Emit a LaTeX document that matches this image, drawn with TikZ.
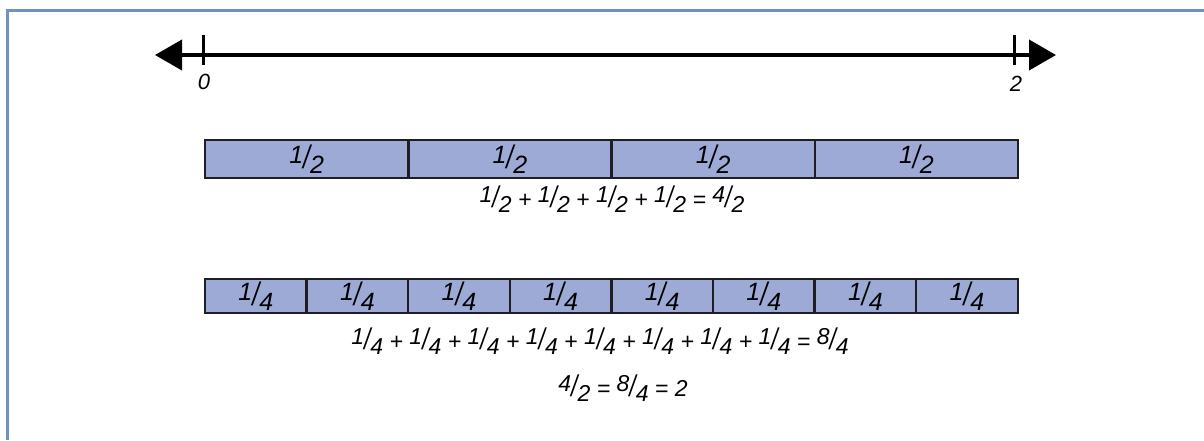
\documentclass[tikz,border=0pt]{standalone}
\usepackage{fontspec}
\setmainfont{Liberation Sans}
\usetikzlibrary{arrows.meta}
\definecolor{frameBlue}{RGB}{112, 146, 190}
\definecolor{barBlue}{RGB}{158, 170, 214}
\definecolor{barEdge}{RGB}{30, 30, 36}
% slanted fraction like 1/2
\newcommand{\frc}[2]{\raisebox{5pt}{#1}\scalebox{1}[1.3]{/}\raisebox{-5pt}{#2}}
\tikzset{
  cellbox/.style={draw=barEdge, line width=2.5pt, fill=barBlue, inner sep=0pt,
    font=\fontsize{25}{30}\selectfont\itshape},
  halfcell/.style={cellbox, minimum width=203.25pt, minimum height=38pt},
  quartercell/.style={cellbox, minimum width=101.6pt, minimum height=34pt},
  sumtext/.style={font=\fontsize{23}{28}\selectfont\itshape, inner sep=0pt},
  ticklabel/.style={font=\fontsize{22}{26}\selectfont\itshape, inner sep=0pt}
}
\begin{document}
\begin{tikzpicture}[x=1pt, y=-1pt]
  \useasboundingbox (0,0) rectangle (1204,440);
  % frame (only top and left edges show)
  \draw[frameBlue, line width=3pt] (7,440) -- (7,10) -- (1204,10);

  % number line from 0 to 2
  \coordinate (lineL) at (155,55);
  \coordinate (lineR) at (1056,55);
  \draw[line width=4pt, {Triangle[length=27pt,width=30pt]}-{Triangle[length=27pt,width=30pt]}] (lineL) -- (lineR);
  \coordinate (t0) at (203,50);
  \coordinate (t2) at (1014,50);
  \draw[line width=3pt] (t0) ++(0,-15) -- ++(0,30);
  \draw[line width=3pt] (t2) ++(0,-15) -- ++(0,30);
  \node[ticklabel] (zero) at (204,82) {0};
  \node[ticklabel] (two) at (1016,84) {2};

  % halves
  \foreach \i in {1,...,4}
    \node[halfcell] (h\i) at ({205+203.25*(\i-0.5)},159) {\frc{1}{2}};
  \node[sumtext] (sumhalf) at (612,199)
    {\frc{1}{2} + \frc{1}{2} + \frc{1}{2} + \frc{1}{2} = \frc{4}{2}};

  % quarters
  \foreach \i in {1,...,8}
    \node[quartercell] (q\i) at ({205+101.6*(\i-0.5)},296) {\frc{1}{4}};
  \node[sumtext] (sumquarter) at (600,341)
    {\frc{1}{4} + \frc{1}{4} + \frc{1}{4} + \frc{1}{4} + \frc{1}{4} + \frc{1}{4} + \frc{1}{4} + \frc{1}{4} = \frc{8}{4}};

  % result
  \node[sumtext] (result) at (623,388) {\frc{4}{2} = \frc{8}{4} = 2};
\end{tikzpicture}
\end{document}
